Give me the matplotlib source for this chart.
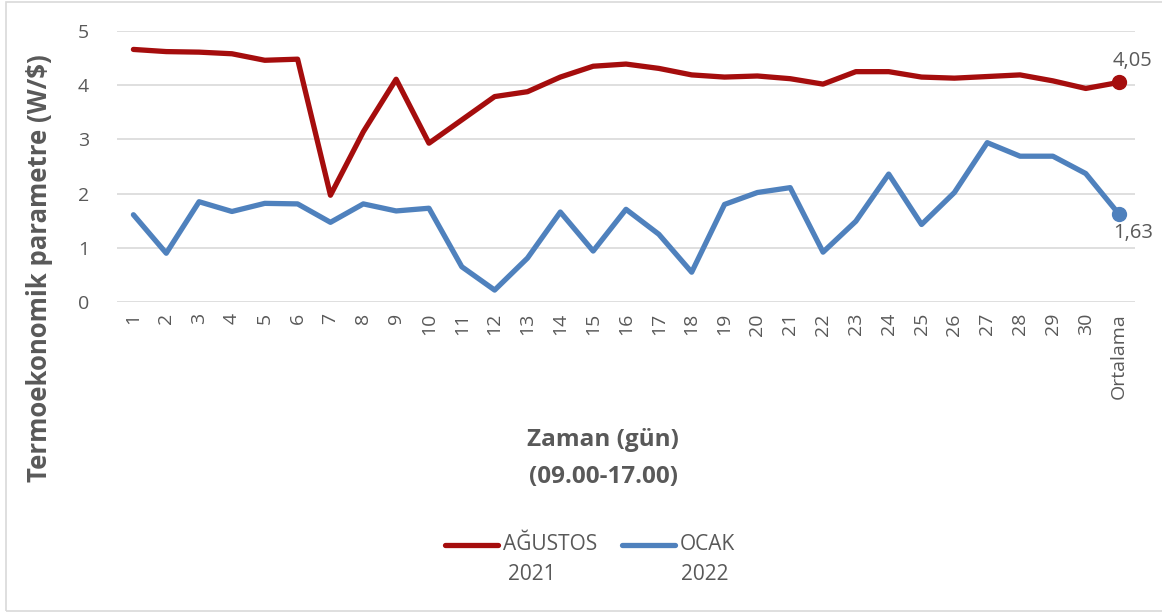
import matplotlib
matplotlib.use("Agg")
import matplotlib.pyplot as plt
from matplotlib.patches import Rectangle
from matplotlib.lines import Line2D

plt.rcParams['font.family'] = ['Open Sans', 'DejaVu Sans']

categories = [str(i) for i in range(1, 31)] + ["Ortalama"]
agustos_2021 = [4.66, 4.62, 4.61, 4.58, 4.46, 4.48, 1.97, 3.14, 4.11, 2.93,
                3.36, 3.79, 3.88, 4.15, 4.35, 4.39, 4.31, 4.19, 4.15, 4.17,
                4.12, 4.02, 4.25, 4.25, 4.15, 4.13, 4.16, 4.19, 4.08, 3.94,
                4.05]
ocak_2022 = [1.61, 0.90, 1.85, 1.67, 1.82, 1.81, 1.47, 1.81, 1.68, 1.73,
             0.65, 0.22, 0.81, 1.66, 0.94, 1.71, 1.25, 0.55, 1.80, 2.02,
             2.11, 0.92, 1.49, 2.36, 1.43, 2.02, 2.94, 2.69, 2.69, 2.37,
             1.63]
series_names = [("AĞUSTOS", "2021"), ("OCAK", "2022")]
y_ticks = [0, 1, 2, 3, 4, 5]

red = "#A50D0D"
blue = "#4F81BD"
text_gray = "#595959"
grid_gray = "#D9D9D9"

W, H = 1162, 612
fig = plt.figure(figsize=(W / 100, H / 100), dpi=100)


def fx(px):
    return px / W


def fy(py):
    return 1 - py / H


# outer chart frame
fig.patches.append(Rectangle((fx(6), fy(611)), (W + 10 - 6) / W, (611 - 2) / H,
                             transform=fig.transFigure, fill=False,
                             edgecolor=grid_gray, linewidth=1.2))

ax = fig.add_axes([fx(117), fy(302), (1135 - 117) / W, (302 - 31) / H])
x = list(range(len(categories)))

colors = [red, blue]
for values, color in zip([agustos_2021, ocak_2022], colors):
    ax.plot(x, values, color=color, lw=3.8, solid_joinstyle='round',
            solid_capstyle='round', zorder=3)
    # highlight the average
    ax.plot(x[-1], values[-1], 'o', color=color, ms=10, zorder=4)

ax.annotate(f"{agustos_2021[-1]:.2f}".replace('.', ','), (x[-1], agustos_2021[-1]),
            xytext=(-4, 8), textcoords='offset points', ha='left', va='bottom',
            fontsize=14.5, color=text_gray)
ax.annotate(f"{ocak_2022[-1]:.2f}".replace('.', ','), (x[-1], ocak_2022[-1]),
            xytext=(-4, -7), textcoords='offset points', ha='left', va='top',
            fontsize=14.5, color=text_gray)

ax.set_xlim(-0.5, len(categories) - 0.5)
ax.set_ylim(0, 5)
ax.set_yticks(y_ticks)
ax.set_xticks(x)
ax.set_xticklabels(categories, rotation=90)
ax.tick_params(axis='both', length=0, labelsize=14, labelcolor=text_gray)
ax.tick_params(axis='y', pad=20)
ax.tick_params(axis='x', pad=8)
ax.grid(axis='y', color=grid_gray, lw=1.2)
ax.set_axisbelow(True)
for s in ax.spines.values():
    s.set_visible(False)

fig.text(fx(40), fy(268), "Termoekonomik parametre (W/$)", rotation=90,
         ha='center', va='center', fontsize=18.5, fontweight='bold', color=text_gray)
fig.text(fx(603), fy(440), "Zaman (gün)", ha='center', va='center',
         fontsize=17.5, fontweight='bold', color=text_gray)
fig.text(fx(603), fy(477), "(09.00-17.00)", ha='center', va='center',
         fontsize=17.5, fontweight='bold', color=text_gray)

# legend: line key beside the first line of a two-line label
legend_slots = [(445, 503, 508), (622, 680, 681)]
for (name, year), color, (x0, tx, ty) in zip(series_names, colors, legend_slots):
    fig.add_artist(Line2D([fx(x0), fx(x0 + 53)], [fy(545), fy(545)],
                          transform=fig.transFigure, color=color, lw=3.8,
                          solid_capstyle='round'))
    fig.text(fx(tx), fy(545), name, ha='left', va='center',
             fontsize=15, color=text_gray)
    fig.text(fx(ty), fy(575), year, ha='left', va='center',
             fontsize=15, color=text_gray)

fig.savefig("out.png", dpi=100)
